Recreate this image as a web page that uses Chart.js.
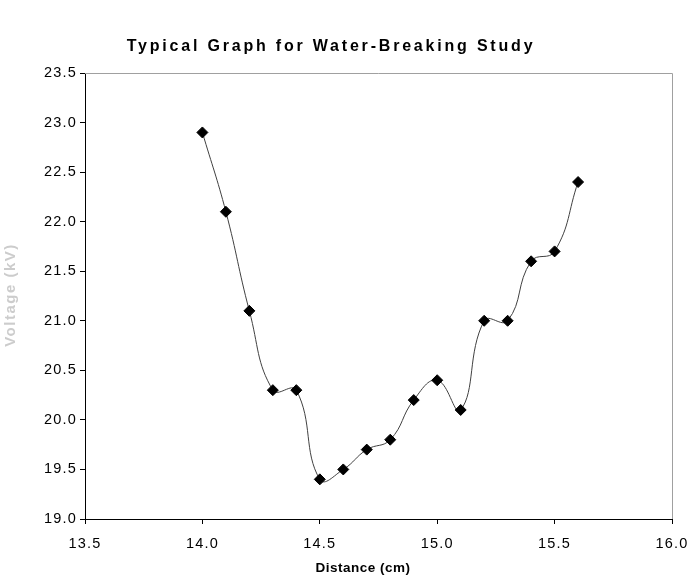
<!DOCTYPE html>
<html>
<head>
<meta charset="utf-8">
<script src="https://cdn.jsdelivr.net/npm/chart.js@4/dist/chart.umd.min.js"></script>
<style>
html,body{margin:0;padding:0;background:#fff;}
#wrap{width:687px;height:583px;position:relative;}
</style>
</head>
<body>
<div id="wrap"><canvas id="c" width="687" height="583"></canvas></div>
<script>
const titleText = "Typical Graph for Water-Breaking Study";
const xTitle = "Distance (cm)";
const yTitle = "Voltage (kV)";
const distances = [14.0, 14.1, 14.2, 14.3, 14.4, 14.5, 14.6, 14.7, 14.8, 14.9, 15.0, 15.1, 15.2, 15.3, 15.4, 15.5, 15.6];
const voltages  = [22.9, 22.1, 21.1, 20.3, 20.3, 19.4, 19.5, 19.7, 19.8, 20.2, 20.4, 20.1, 21.0, 21.0, 21.6, 21.7, 22.4];
const xMin = 13.5, xMax = 16.0, xStep = 0.5;
const yMin = 19.0, yMax = 23.5, yStep = 0.5;

const points = distances.map((d, i) => ({x: d, y: voltages[i]}));
const FONT = 'Liberation Sans, Arial, sans-serif';

const spacing = {
  id: 'spacing',
  beforeInit(chart) { chart.ctx.letterSpacing = '1.2px'; },
  beforeLayout(chart) { chart.ctx.letterSpacing = '1.2px'; },
  beforeDraw(chart) { chart.ctx.letterSpacing = '1.2px'; }
};

const frame = {
  id: 'frame',
  beforeDatasetsDraw(chart) {
    const {ctx, chartArea: a} = chart;
    ctx.save();
    ctx.strokeStyle = '#a0a0a0';
    ctx.lineWidth = 1;
    ctx.beginPath();
    ctx.moveTo(a.left, a.top + 0.5);
    ctx.lineTo(a.right + 0.5, a.top + 0.5);
    ctx.lineTo(a.right + 0.5, a.bottom);
    ctx.stroke();
    ctx.restore();
  },
  afterDraw(chart) {
    const {ctx} = chart;
    ctx.save();
    ctx.textAlign = 'center';
    ctx.textBaseline = 'middle';
    // chart title
    ctx.letterSpacing = '2.8px';
    ctx.fillStyle = '#000';
    ctx.font = 'bold 16px ' + FONT;
    ctx.fillText(titleText, 331, 47);
    // x axis title
    ctx.letterSpacing = '0.5px';
    ctx.font = 'bold 13.5px ' + FONT;
    ctx.fillText(xTitle, 363, 568);
    // y axis title
    ctx.letterSpacing = '1.5px';
    ctx.font = 'bold 15px ' + FONT;
    ctx.fillStyle = '#cccccc';
    ctx.translate(11, 295);
    ctx.rotate(-Math.PI / 2);
    ctx.fillText(yTitle, 0, 0);
    ctx.restore();
  }
};

new Chart(document.getElementById('c'), {
  type: 'scatter',
  data: {
    datasets: [{
      data: points,
      showLine: true,
      tension: 0.45,
      borderColor: '#404040',
      borderWidth: 1,
      pointStyle: 'rectRot',
      pointRadius: 5.5,
      pointHoverRadius: 5.5,
      pointBackgroundColor: '#000',
      pointBorderColor: '#000',
      pointBorderWidth: 1
    }]
  },
  options: {
    responsive: false,
    animation: false,
    devicePixelRatio: 1,
    layout: {padding: {left: 0, right: 15, top: 73, bottom: 0}},
    plugins: {
      legend: {display: false},
      tooltip: {enabled: false},
      title: {display: false}
    },
    scales: {
      x: {
        type: 'linear',
        min: xMin, max: xMax,
        afterFit: s => { s.height = 64; s.paddingLeft = 0; s.paddingRight = 0; },
        ticks: {
          stepSize: xStep,
          color: '#000',
          font: {family: FONT, size: 14.5},
          padding: 11,
          maxRotation: 0,
          callback: v => v.toFixed(1)
        },
        grid: {display: true, drawOnChartArea: false, drawTicks: true, tickLength: 5, color: '#000'},
        border: {display: true, color: '#000', width: 1},
        title: {display: false, text: xTitle}
      },
      y: {
        type: 'linear',
        min: yMin, max: yMax,
        afterFit: s => { s.width = 85; s.paddingTop = 0; s.paddingBottom = 0; },
        ticks: {
          stepSize: yStep,
          color: '#000',
          font: {family: FONT, size: 14.5},
          padding: 3,
          callback: v => v.toFixed(1)
        },
        grid: {display: true, drawOnChartArea: false, drawTicks: true, tickLength: 5, color: '#000'},
        border: {display: true, color: '#000', width: 1},
        title: {display: false, text: yTitle}
      }
    }
  },
  plugins: [spacing, frame]
});
</script>
</body>
</html>
